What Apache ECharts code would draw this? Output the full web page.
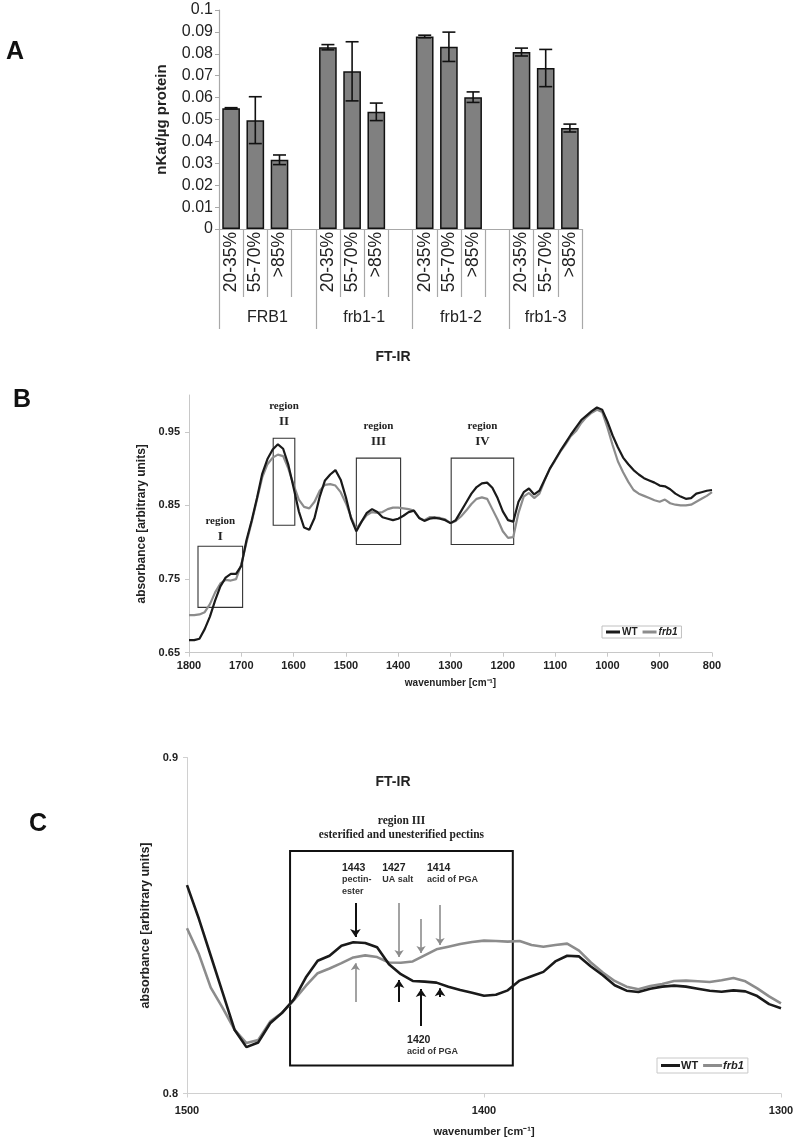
<!DOCTYPE html>
<html><head><meta charset="utf-8">
<script src="https://cdn.jsdelivr.net/npm/echarts@6/dist/echarts.min.js"></script>
<style>html,body{margin:0;padding:0;background:#fff}#c{width:798px;height:1142px}</style>
</head><body><div id="c"></div>
<script>
// ---------- Panel A data ----------
const aCategories = ['20-35%','55-70%','>85%','','20-35%','55-70%','>85%','','20-35%','55-70%','>85%','','20-35%','55-70%','>85%'];
const aGroups = ['FRB1','frb1-1','frb1-2','frb1-3'];
const aGroupSizes = [4,4,4,3];
const aValues = [0.0551,0.0497,0.0316,null,0.0830,0.0720,0.0535,null,0.0879,0.0832,0.0602,null,0.0808,0.0735,0.0461];
const aErrors = [0.0003,0.0107,0.0022,null,0.0012,0.0135,0.0040,null,0.0006,0.0067,0.0024,null,0.0018,0.0085,0.0018];

// ---------- Panel B data (FT-IR full spectrum) ----------
const bWavenumbers = [1800,1790,1780,1770,1760,1750,1740,1730,1720,1710,
 1700,1690,1680,1670,1660,1650,1640,1630,1620,1610,
 1600,1590,1580,1570,1560,1550,1540,1530,1520,1510,
 1500,1490,1480,1470,1460,1450,1440,1430,1420,1410,
 1400,1390,1380,1370,1360,1350,1340,1330,1320,1310,
 1300,1290,1280,1270,1260,1250,1240,1230,1220,1210,
 1200,1190,1180,1170,1160,1150,1140,1130,1120,1110,
 1100,1090,1080,1070,1060,1050,1040,1030,1020,1010,
 1000,990,980,970,960,950,940,930,920,910,
 900,890,880,870,860,850,840,830,820,810,800];
const bWT = [0.667,0.667,0.669,0.682,0.699,0.721,0.740,0.752,0.757,0.757,
 0.768,0.803,0.830,0.860,0.893,0.913,0.926,0.933,0.927,0.905,
 0.874,0.842,0.820,0.817,0.833,0.862,0.884,0.892,0.898,0.885,
 0.861,0.832,0.815,0.828,0.840,0.845,0.841,0.834,0.832,0.830,
 0.832,0.836,0.841,0.843,0.833,0.829,0.832,0.833,0.832,0.830,
 0.826,0.830,0.842,0.854,0.866,0.875,0.880,0.881,0.874,0.860,
 0.842,0.830,0.828,0.855,0.868,0.873,0.865,0.870,0.885,0.900,
 0.912,0.924,0.935,0.946,0.956,0.966,0.972,0.978,0.983,0.980,
 0.964,0.945,0.929,0.915,0.906,0.898,0.892,0.887,0.884,0.881,
 0.877,0.876,0.872,0.866,0.862,0.859,0.860,0.866,0.868,0.870,0.871];
const bFrb1 = [0.701,0.701,0.702,0.705,0.716,0.732,0.744,0.749,0.748,0.750,
 0.770,0.800,0.828,0.858,0.888,0.906,0.915,0.919,0.917,0.900,
 0.878,0.858,0.848,0.846,0.855,0.870,0.878,0.879,0.877,0.868,
 0.853,0.834,0.818,0.828,0.837,0.841,0.840,0.841,0.845,0.847,
 0.847,0.846,0.845,0.843,0.833,0.830,0.834,0.834,0.833,0.831,
 0.826,0.829,0.835,0.843,0.852,0.859,0.861,0.859,0.845,0.831,
 0.815,0.806,0.807,0.840,0.862,0.867,0.860,0.866,0.884,0.900,
 0.911,0.923,0.933,0.944,0.951,0.962,0.970,0.976,0.980,0.977,
 0.956,0.932,0.910,0.895,0.882,0.871,0.866,0.863,0.860,0.857,
 0.855,0.858,0.853,0.851,0.850,0.850,0.851,0.855,0.859,0.863,0.868];
const bYTicks = [0.65,0.75,0.85,0.95];
// region boxes: [label, wn start, wn end, abs top, abs bottom]
const bRegions = [['I',1782.8,1697.5,0.7946,0.7115],['II',1639,1597.7,0.9413,0.823],
                  ['III',1480,1395.4,0.9142,0.7969],['IV',1298.7,1179.2,0.9142,0.7969]];

// ---------- Panel C data (region III zoom) ----------
const cWavenumbers = [1500,1496,1492,1488,1484,1480,1476,1472,1468,1464,
 1460,1456,1452,1448,1444,1440,1436,1432,1428,1424,
 1420,1416,1412,1408,1404,1400,1396,1392,1388,1384,
 1380,1376,1372,1368,1364,1360,1356,1352,1348,1344,
 1340,1336,1332,1328,1324,1320,1316,1312,1308,1304,1300];
const cWT = [0.862,0.852,0.841,0.830,0.819,0.8138,0.8152,0.8209,0.8240,0.8280,
 0.8345,0.8395,0.8410,0.8440,0.8450,0.8448,0.8435,0.8385,0.8355,0.8335,
 0.8333,0.8330,0.8318,0.8308,0.8300,0.8291,0.8294,0.8307,0.8336,0.8349,
 0.8362,0.8393,0.8410,0.8408,0.8378,0.8352,0.8322,0.8306,0.8302,0.8312,
 0.8318,0.8321,0.8318,0.8312,0.8306,0.8303,0.8307,0.8304,0.8290,0.8266,0.8254];
const cFrb1 = [0.8492,0.8415,0.8315,0.8255,0.8190,0.8150,0.8159,0.8214,0.8240,0.8278,
 0.8320,0.8358,0.8372,0.8388,0.8405,0.8411,0.8406,0.8390,0.8389,0.8393,
 0.8411,0.8429,0.8437,0.8445,0.8451,0.8455,0.8454,0.8452,0.8454,0.8442,
 0.8437,0.8442,0.8446,0.8425,0.8390,0.8360,0.8335,0.8318,0.8310,0.8320,
 0.8326,0.8335,0.8336,0.8334,0.8332,0.8337,0.8344,0.8334,0.8313,0.8289,0.8268];
const cBox = [1465.3,1390.3,0.8722,0.8083];
// annotation texts: [wn, abs, number, description]
const cNotes = [[1447.8,0.8689,'1443','pectin-\nester'],[1434.3,0.8689,'1427','UA salt'],
                [1419.2,0.8689,'1414','acid of PGA'],[1425.9,0.8177,'1420','acid of PGA']];
// arrows: [wn, from abs, to abs]
const cArrowsWT = [[1443.3,0.8567,0.8466],[1428.6,0.8272,0.8338],[1421.2,0.8201,0.8311],[1414.8,0.8287,0.8313]];
const cArrowsFrb1 = [[1443.3,0.8272,0.8388],[1428.6,0.8567,0.8406],[1421.2,0.8519,0.8418],[1414.8,0.8561,0.8442]];

// ---------- build ----------
const SANS = '"Liberation Sans", Arial, sans-serif';
const SERIF = '"Liberation Serif", "Times New Roman", serif';
const BLACK = '#1a1a1a', GREY = '#8c8c8c';

const groupBounds = [0]; aGroupSizes.forEach(s => groupBounds.push(groupBounds[groupBounds.length-1] + s));
const groupCenters = aGroupSizes.map((s,i) => groupBounds[i] + s/2);

const errData = [];
aValues.forEach((v,i) => { if (v != null) errData.push([i, v - aErrors[i], v + aErrors[i]]); });

const pair = (xs, ys) => xs.map((x,i) => [x, ys[i]]);
const plain = v => String(v);

const chart = echarts.init(document.getElementById('c'), null, {renderer:'canvas'});
chart.setOption({
  animation: false,
  backgroundColor: '#fff',
  textStyle: {fontFamily: SANS},
  grid: [
    {left: 219, top: 10, width: 363, height: 219, outerBoundsMode: 'none'},
    {left: 189, top: 395, width: 523, height: 257.7, outerBoundsMode: 'none'},
    {left: 187, top: 757.5, width: 594, height: 336, outerBoundsMode: 'none'}
  ],
  xAxis: [
    {type: 'category', gridIndex: 0, data: aCategories,
     axisLine: {lineStyle: {color: '#a8a8a8', width: 1.2}},
     axisTick: {show: true, interval: 0, length: 68, lineStyle: {color: '#a8a8a8', width: 1.2}},
     axisLabel: {interval: 0, rotate: 90, fontSize: 17.5, color: '#222', margin: 3, fontFamily: SANS}},
    {type: 'value', gridIndex: 0, min: 0, max: 15, position: 'bottom', offset: 68,
     axisLine: {show: false}, splitLine: {show: false},
     axisTick: {show: true, customValues: groupBounds, length: 32, lineStyle: {color: '#a8a8a8', width: 1.2}},
     axisLabel: {customValues: groupCenters, margin: 13, fontSize: 16, color: '#222', fontFamily: SANS,
       formatter: v => { const k = groupCenters.indexOf(v); return k >= 0 ? aGroups[k] : ''; }}},
    {type: 'value', gridIndex: 1, inverse: true, min: 800, max: 1800, interval: 100,
     axisLine: {lineStyle: {color: '#c8c8c8'}}, axisTick: {length: 4, lineStyle: {color: '#c8c8c8'}},
     splitLine: {show: false},
     axisLabel: {fontSize: 11, fontWeight: 'bold', color: '#222', margin: 8, fontFamily: SANS, formatter: plain},
     name: 'wavenumber [cm\u207B\u00B9]', nameLocation: 'middle', nameGap: 26,
     nameTextStyle: {fontSize: 10, fontWeight: 'bold', color: '#222', fontFamily: SANS}},
    {type: 'value', gridIndex: 2, inverse: true, min: 1300, max: 1500, interval: 100,
     axisLine: {lineStyle: {color: '#d0d0d0'}}, axisTick: {length: 4, lineStyle: {color: '#d0d0d0'}},
     splitLine: {show: false},
     axisLabel: {fontSize: 11, fontWeight: 'bold', color: '#222', margin: 12, fontFamily: SANS, formatter: plain},
     name: 'wavenumber [cm\u207B\u00B9]', nameLocation: 'middle', nameGap: 33,
     nameTextStyle: {fontSize: 11, fontWeight: 'bold', color: '#222', fontFamily: SANS}}
  ],
  yAxis: [
    {type: 'value', gridIndex: 0, min: 0, max: 0.1, interval: 0.01,
     axisLine: {show: true, lineStyle: {color: '#a8a8a8', width: 1.2}},
     axisTick: {show: true, length: 4, lineStyle: {color: '#a8a8a8'}},
     splitLine: {show: false},
     axisLabel: {fontSize: 16, color: '#222', margin: 6, fontFamily: SANS,
       formatter: v => String(Math.round(v * 100) / 100)},
     name: 'nKat/\u00B5g protein', nameLocation: 'middle', nameGap: 50,
     nameTextStyle: {fontSize: 15, fontWeight: 'bold', color: '#222', fontFamily: SANS}},
    {type: 'value', gridIndex: 1, min: 0.65, max: 1.0,
     axisLine: {show: true, lineStyle: {color: '#c8c8c8'}},
     axisTick: {show: true, length: 4, customValues: bYTicks, lineStyle: {color: '#c8c8c8'}},
     splitLine: {show: false},
     axisLabel: {customValues: bYTicks, fontSize: 11, fontWeight: 'bold', color: '#222', margin: 9,
       fontFamily: SANS, formatter: v => v.toFixed(2)},
     name: 'absorbance [arbitrary units]', nameLocation: 'middle', nameGap: 33,
     nameTextStyle: {fontSize: 12, fontWeight: 'bold', color: '#222', fontFamily: SANS}},
    {type: 'value', gridIndex: 2, min: 0.8, max: 0.9, interval: 0.1,
     axisLine: {show: true, lineStyle: {color: '#d0d0d0'}},
     axisTick: {show: true, length: 4, lineStyle: {color: '#d0d0d0'}},
     splitLine: {show: false},
     axisLabel: {fontSize: 11, fontWeight: 'bold', color: '#222', margin: 9, fontFamily: SANS,
       formatter: v => v.toFixed(1)},
     name: 'absorbance [arbitrary units]', nameLocation: 'middle', nameGap: 15,
     nameTextStyle: {fontSize: 12.5, fontWeight: 'bold', color: '#222', fontFamily: SANS}}
  ],
  legend: [
    {left: 602, top: 626, orient: 'horizontal', itemGap: 5, padding: [1, 4], icon: 'rect',
     itemWidth: 14, itemHeight: 3, borderColor: '#c0c0c0', borderWidth: 1, selectedMode: false,
     textStyle: {fontSize: 10, fontWeight: 'bold', color: '#222', fontFamily: SANS, padding: [0,0,0,-3]},
     data: [{name: 'WT'}, {name: 'frb1', textStyle: {fontStyle: 'italic'}}]},
    {left: 657, top: 1058, orient: 'horizontal', itemGap: 5, padding: [2, 4], icon: 'rect',
     itemWidth: 19, itemHeight: 3, borderColor: '#c8c8c8', borderWidth: 1, selectedMode: false,
     textStyle: {fontSize: 11, fontWeight: 'bold', color: '#222', fontFamily: SANS, padding: [0,0,0,-4]},
     data: [{name: 'WT'}, {name: 'frb1', textStyle: {fontStyle: 'italic'}}]}
  ],
  graphic: [
    {type: 'text', x: 15, y: 52, style: {text: 'A', font: 'bold 25px ' + SANS, fill: '#111', textAlign: 'center', textVerticalAlign: 'middle'}},
    {type: 'text', x: 22, y: 400, style: {text: 'B', font: 'bold 25px ' + SANS, fill: '#111', textAlign: 'center', textVerticalAlign: 'middle'}},
    {type: 'text', x: 38, y: 824, style: {text: 'C', font: 'bold 25px ' + SANS, fill: '#111', textAlign: 'center', textVerticalAlign: 'middle'}},
    {type: 'text', x: 393, y: 357, style: {text: 'FT-IR', font: 'bold 14px ' + SANS, fill: '#222', textAlign: 'center', textVerticalAlign: 'middle'}},
    {type: 'text', x: 393, y: 782, style: {text: 'FT-IR', font: 'bold 14px ' + SANS, fill: '#222', textAlign: 'center', textVerticalAlign: 'middle'}}
  ],
  series: [
    {type: 'bar', xAxisIndex: 0, yAxisIndex: 0, data: aValues, barWidth: '73%',
     itemStyle: {color: '#808080', borderColor: '#111', borderWidth: 1.5}, silent: true},
    {type: 'custom', xAxisIndex: 0, yAxisIndex: 0, data: errData, z: 5, silent: true,
     renderItem: (params, api) => {
       const lo = api.coord([api.value(0), api.value(1)]);
       const hi = api.coord([api.value(0), api.value(2)]);
       const w = 6.5, st = {stroke: '#111', lineWidth: 1.6};
       return {type: 'group', children: [
         {type: 'line', shape: {x1: lo[0], y1: lo[1], x2: hi[0], y2: hi[1]}, style: st},
         {type: 'line', shape: {x1: lo[0]-w, y1: lo[1], x2: lo[0]+w, y2: lo[1]}, style: st},
         {type: 'line', shape: {x1: hi[0]-w, y1: hi[1], x2: hi[0]+w, y2: hi[1]}, style: st}
       ]};
     }},
    {type: 'line', name: 'WT', xAxisIndex: 2, yAxisIndex: 1, data: pair(bWavenumbers, bWT),
     showSymbol: false, symbol: 'none', color: BLACK, lineStyle: {color: BLACK, width: 2.2}, z: 4, silent: true,
     markArea: {silent: true,
       itemStyle: {color: 'rgba(0,0,0,0)', borderColor: '#333', borderWidth: 1.1},
       label: {show: true, position: 'top', distance: 8, color: '#222',
         formatter: p => '{a|region}\n{b|' + p.name + '}',
         rich: {a: {fontFamily: SERIF, fontWeight: 'bold', fontSize: 11, lineHeight: 15, align: 'center'},
                b: {fontFamily: SERIF, fontWeight: 'bold', fontSize: 13, lineHeight: 16, align: 'center'}}},
       data: bRegions.map(r => [{name: r[0], coord: [r[1], r[3]], label: r[0] === 'I' ? {distance: 1} : undefined},
                                {coord: [r[2], r[4]]}])}},
    {type: 'line', name: 'frb1', xAxisIndex: 2, yAxisIndex: 1, data: pair(bWavenumbers, bFrb1),
     showSymbol: false, symbol: 'none', color: GREY, lineStyle: {color: GREY, width: 2.2}, z: 3, silent: true},
    {type: 'line', name: 'WT', xAxisIndex: 3, yAxisIndex: 2, data: pair(cWavenumbers, cWT),
     showSymbol: false, symbol: 'none', color: BLACK, lineStyle: {color: BLACK, width: 2.6}, z: 4, silent: true,
     markArea: {silent: true,
       itemStyle: {color: 'rgba(0,0,0,0)', borderColor: '#111', borderWidth: 2},
       label: {show: true, position: 'top', distance: 8, color: '#222',
         formatter: '{a|region III}\n{a|esterified and unesterified pectins}',
         rich: {a: {fontFamily: SERIF, fontWeight: 'bold', fontSize: 11.5, lineHeight: 14, align: 'center'}}},
       data: [[{coord: [cBox[0], cBox[2]]}, {coord: [cBox[1], cBox[3]]}]]},
     markPoint: {silent: true, symbol: 'circle', symbolSize: 0,
       label: {show: true, position: [0, 0], align: 'left', verticalAlign: 'top',
         formatter: p => '{n|' + p.data.num + '}\n' + p.data.txt.split('\n').map(t => '{t|' + t + '}').join('\n'),
         rich: {n: {fontFamily: SANS, fontWeight: 'bold', fontSize: 10.5, lineHeight: 12, color: '#222'},
                t: {fontFamily: SANS, fontWeight: 'bold', fontSize: 9, lineHeight: 11.5, color: '#333'}}},
       data: cNotes.map(n => ({coord: [n[0], n[1]], num: n[2], txt: n[3]}))},
     markLine: {silent: true, symbol: ['none', 'arrow'], symbolSize: 8, label: {show: false},
       lineStyle: {color: '#111', width: 2, type: 'solid'}, emphasis: {disabled: true},
       data: cArrowsWT.map(a => [{coord: [a[0], a[1]]}, {coord: [a[0], a[2]]}])}},
    {type: 'line', name: 'frb1', xAxisIndex: 3, yAxisIndex: 2, data: pair(cWavenumbers, cFrb1),
     showSymbol: false, symbol: 'none', color: GREY, lineStyle: {color: GREY, width: 2.6}, z: 3, silent: true,
     markLine: {silent: true, symbol: ['none', 'arrow'], symbolSize: 7, label: {show: false},
       lineStyle: {color: '#8c8c8c', width: 1.6, type: 'solid'}, emphasis: {disabled: true},
       data: cArrowsFrb1.map(a => [{coord: [a[0], a[1]]}, {coord: [a[0], a[2]]}])}}
  ]
});
</script>
</body></html>
